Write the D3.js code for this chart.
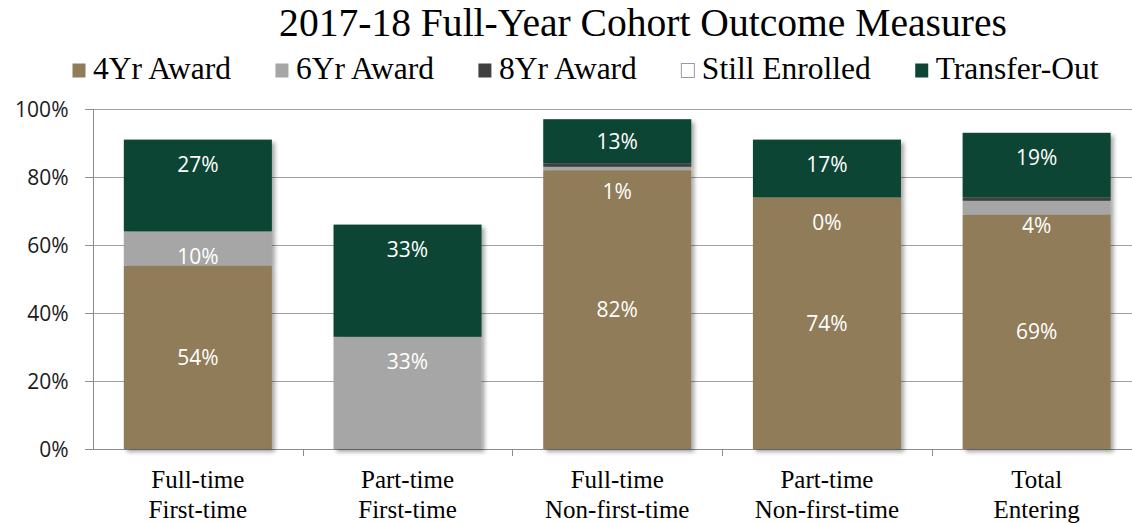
<!DOCTYPE html>
<html>
<head>
<meta charset="utf-8">
<script src="https://cdn.jsdelivr.net/npm/d3@7/dist/d3.min.js"></script>
<style>
  html, body { margin: 0; padding: 0; background: #fff; }
  svg { display: block; }
</style>
</head>
<body>
<svg id="chart" width="1132" height="523"></svg>
<script>
// ---------- data ----------
const categories = ["Full-time\nFirst-time", "Part-time\nFirst-time", "Full-time\nNon-first-time", "Part-time\nNon-first-time", "Total\nEntering"];
const seriesNames = ["4Yr Award", "6Yr Award", "8Yr Award", "Still Enrolled", "Transfer-Out"];
const award4 = [0.54, 0.00, 0.82, 0.74, 0.69];
const award6 = [0.10, 0.33, 0.01, 0.00, 0.04];
const award8 = [0.00, 0.00, 0.01, 0.00, 0.01];
const stillEnrolled = [0.00, 0.00, 0.00, 0.00, 0.00];
const transferOut = [0.27, 0.33, 0.13, 0.17, 0.19];
const yTicks = [0, 0.2, 0.4, 0.6, 0.8, 1.0];
const title = "2017-18 Full-Year Cohort Outcome Measures";
// which segments carry a data label
const labelShown = {
  "4Yr Award": [true, false, true, true, true],
  "6Yr Award": [true, true, true, true, true],
  "8Yr Award": [false, false, false, false, false],
  "Still Enrolled": [false, false, false, false, false],
  "Transfer-Out": [true, true, true, true, true]
};

// ---------- styles ----------
const colors = { "4Yr Award": "#907c58", "6Yr Award": "#a6a6a6", "8Yr Award": "#404040", "Still Enrolled": "#ffffff", "Transfer-Out": "#0d4536" };
const serif = "'Liberation Serif', 'DejaVu Serif', serif";
const sans = "'Open Sans', 'Noto Sans', sans-serif";

const svg = d3.select("#chart");
const defs = svg.append("defs");
const f = defs.append("filter").attr("id", "shadow").attr("x", "-10%").attr("y", "-10%").attr("width", "130%").attr("height", "130%");
f.append("feDropShadow").attr("dx", 3).attr("dy", 3).attr("stdDeviation", 2.2).attr("flood-color", "#000").attr("flood-opacity", 0.35);

const rows = categories.map((c, i) => ({
  cat: c,
  "4Yr Award": award4[i], "6Yr Award": award6[i], "8Yr Award": award8[i],
  "Still Enrolled": stillEnrolled[i], "Transfer-Out": transferOut[i]
}));

const plotLeft = 93, plotTop = 109, plotBottom = 449, step = 209.7;
const x = d3.scaleBand().domain(categories).range([plotLeft, plotLeft + step * categories.length]).paddingInner(0.294).paddingOuter(0.147);
const y = d3.scaleLinear().domain([0, 1]).range([plotBottom, plotTop]);

// gridlines
svg.append("g").selectAll("line").data(yTicks).join("line")
  .attr("x1", plotLeft - 8).attr("x2", 1132)
  .attr("y1", d => Math.round(y(d)) + 0.5).attr("y2", d => Math.round(y(d)) + 0.5)
  .attr("stroke", d => d === 0 ? "#8c8c8c" : "#a0a0a0").attr("stroke-width", 1);

// y axis
const yAxis = svg.append("g").attr("transform", `translate(${plotLeft + 0.5},0)`)
  .call(d3.axisLeft(y).tickValues(yTicks).tickFormat(d3.format(".0%")).tickSize(8).tickPadding(17));
yAxis.select(".domain").attr("stroke", "#8c8c8c").attr("d", `M0,${plotTop}V${plotBottom + 0.5}`);
yAxis.selectAll(".tick line").attr("stroke", "#8c8c8c");
yAxis.selectAll(".tick text").attr("font-family", sans).attr("font-size", 21).attr("fill", "#1a1a1a").attr("dy", "0.34em");

// x axis category boundary ticks
const bounds = d3.range(1, categories.length + 1).map(i => plotLeft + step * i);
svg.append("g").selectAll("line").data(bounds).join("line")
  .attr("x1", d => Math.round(d) + 0.5).attr("x2", d => Math.round(d) + 0.5)
  .attr("y1", plotBottom).attr("y2", plotBottom + 7)
  .attr("stroke", "#8c8c8c");

// stacked bars
const stack = d3.stack().keys(seriesNames);
const stacked = stack(rows);
const barGroups = svg.append("g").selectAll("g").data(categories).join("g").attr("filter", "url(#shadow)");
barGroups.each(function (cat, ci) {
  const g = d3.select(this);
  stacked.forEach(s => {
    const seg = s[ci];
    if (seg[1] - seg[0] <= 0) return;
    g.append("rect")
      .attr("x", x(cat)).attr("width", x.bandwidth())
      .attr("y", y(seg[1])).attr("height", y(seg[0]) - y(seg[1]))
      .attr("fill", colors[s.key])
      .attr("stroke", s.key === "Still Enrolled" ? "#a6a6a6" : "none");
  });
});

// data labels
const labelG = svg.append("g");
stacked.forEach(s => {
  categories.forEach((cat, ci) => {
    if (!labelShown[s.key][ci]) return;
    const seg = s[ci];
    const val = seg[1] - seg[0];
    const cy = s.key === "4Yr Award" ? (y(seg[0]) + y(seg[1])) / 2 : Math.min(y(seg[1]) + 25, s.key === "Transfer-Out" ? (y(seg[0]) + y(seg[1])) / 2 : 1e9);
    labelG.append("text")
      .attr("x", x(cat) + x.bandwidth() / 2).attr("y", cy)
      .attr("dy", "0.36em").attr("text-anchor", "middle")
      .attr("font-family", sans).attr("font-size", 21).attr("fill", "#fff")
      .text(d3.format(".0%")(val));
  });
});

// category labels
const catG = svg.append("g");
categories.forEach(cat => {
  const lines = cat.split("\n");
  const t = catG.append("text").attr("text-anchor", "middle")
    .attr("font-family", serif).attr("font-size", 25).attr("fill", "#000");
  lines.forEach((ln, li) => {
    t.append("tspan").attr("x", x(cat) + x.bandwidth() / 2).attr("y", 488 + li * 30).text(ln);
  });
});

// title
const tt = svg.append("text").attr("x", 643).attr("y", 36).attr("text-anchor", "middle")
  .attr("font-family", serif).attr("font-size", 36).attr("fill", "#000").text(title);
const tw = tt.node().getComputedTextLength();
if (tw > 0) tt.attr("font-size", Math.max(32, Math.min(40, 36 * 728 / tw)));

// legend
const legend = svg.append("g");
let lx = 72;
seriesNames.forEach(name => {
  legend.append("rect").attr("x", lx + 0.5).attr("y", 63.5).attr("width", 13).attr("height", 14)
    .attr("fill", colors[name]).attr("stroke", name === "Still Enrolled" ? "#9a9a9a" : "none");
  const t = legend.append("text").attr("x", lx + 21).attr("y", 79)
    .attr("font-family", serif).attr("font-size", 31.5).attr("fill", "#000").text(name);
  lx += 21 + t.node().getComputedTextLength() + 44;
});
</script>
</body>
</html>
